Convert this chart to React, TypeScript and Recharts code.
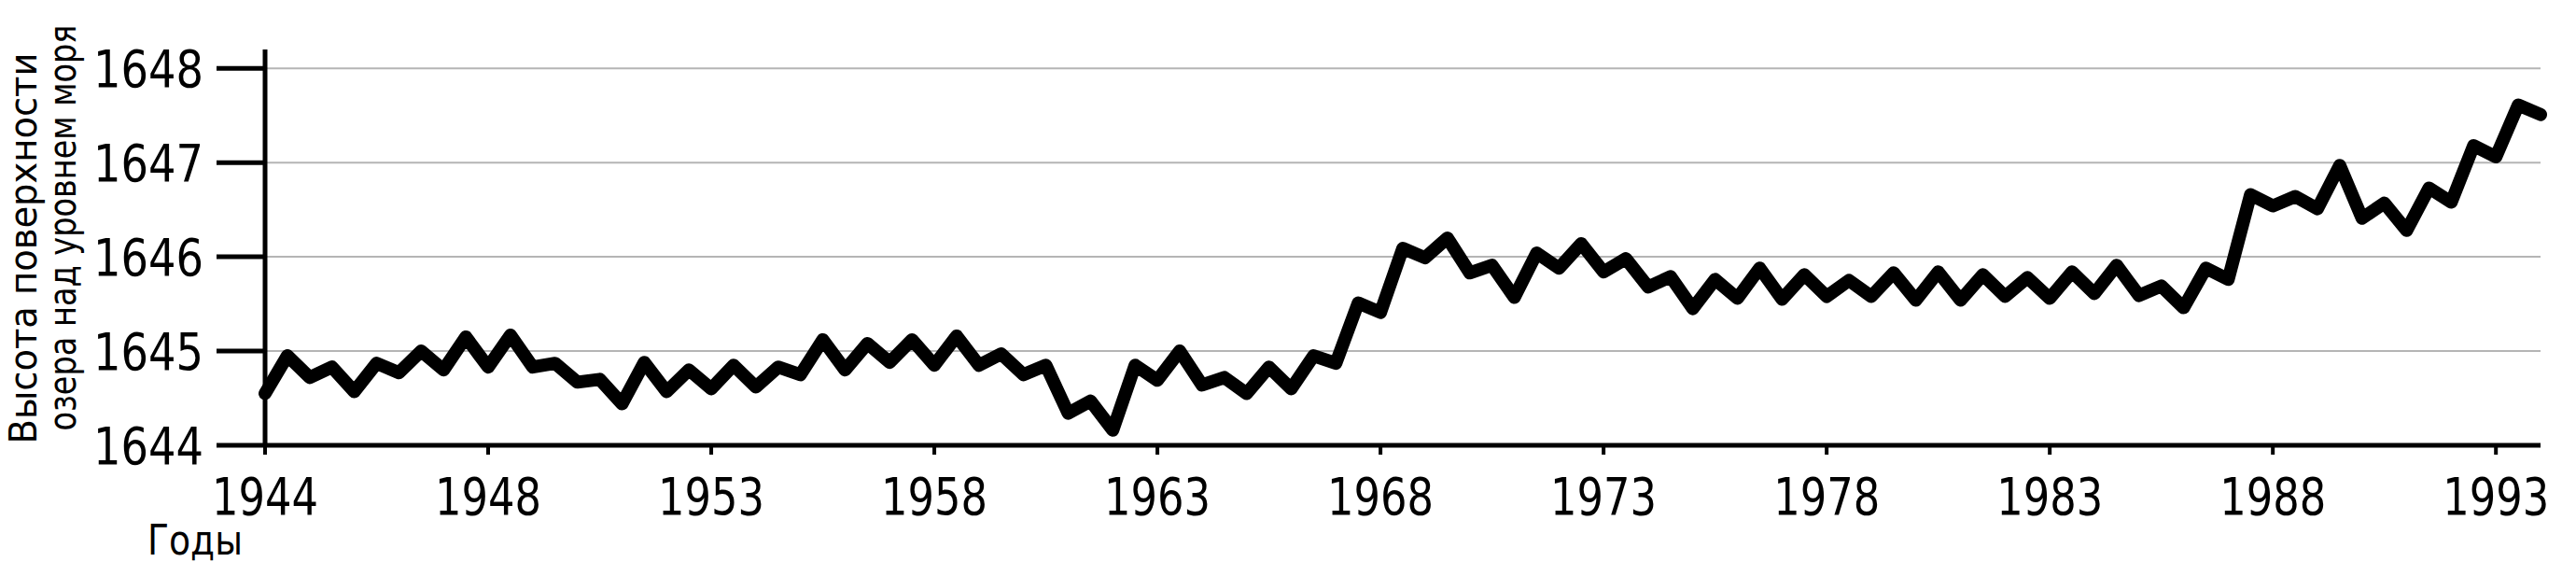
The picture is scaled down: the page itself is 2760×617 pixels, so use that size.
import { LineChart, Line, XAxis, YAxis, CartesianGrid } from "recharts";

// lake surface level, two readings per year (m above sea level)
const levels = [
  1644.55, 1644.95, 1644.72, 1644.83, 1644.57, 1644.87, 1644.77, 1645.0, 1644.8, 1645.15,
  1644.83, 1645.17, 1644.83, 1644.87, 1644.67, 1644.7, 1644.44, 1644.88, 1644.57, 1644.8,
  1644.6, 1644.85, 1644.62, 1644.83, 1644.75, 1645.12, 1644.8, 1645.08, 1644.88, 1645.12,
  1644.85, 1645.16, 1644.85, 1644.97, 1644.75, 1644.85, 1644.34, 1644.47, 1644.16, 1644.85,
  1644.69, 1645.0, 1644.64, 1644.72, 1644.55, 1644.83, 1644.6, 1644.95, 1644.87, 1645.51,
  1645.41, 1646.09, 1645.99, 1646.2, 1645.83, 1645.91, 1645.57, 1646.04, 1645.88, 1646.14,
  1645.84, 1645.98, 1645.68, 1645.79, 1645.45, 1645.76, 1645.56, 1645.88, 1645.55, 1645.81,
  1645.58, 1645.75, 1645.58, 1645.83, 1645.54, 1645.84, 1645.54, 1645.81, 1645.58, 1645.78,
  1645.56, 1645.84, 1645.61, 1645.91, 1645.59, 1645.69, 1645.46, 1645.88, 1645.76, 1646.66,
  1646.54, 1646.64, 1646.51, 1646.97, 1646.41, 1646.57, 1646.28, 1646.73, 1646.58, 1647.18,
  1647.06, 1647.61, 1647.51,
];

const yearLabels = ["1944", "1948", "1953", "1958", "1963", "1968", "1973", "1978", "1983", "1988", "1993"];
const levelTicks = [1644, 1645, 1646, 1647, 1648];

const STEP = 10; // one labelled tick every 10 readings
const data = levels.map((v, i) => ({ i, v }));
const xTicks = yearLabels.map((_, k) => k * STEP);

const font = "'DejaVu Sans', sans-serif";
const narrow = "'DejaVu Sans Condensed', 'DejaVu Sans', sans-serif";

// the original uses a narrow face, so squeeze the glyphs to the measured width
function YTick({ x, y, payload }: any) {
  return (
    <text x={x} y={y} dy="0.36em" textAnchor="end" fontFamily={font} fontSize={56} fill="#000"
      textLength={118} lengthAdjust="spacingAndGlyphs">
      {payload.value}
    </text>
  );
}

function XTick({ x, y, payload }: any) {
  return (
    <text x={x} y={y} dy="0.72em" textAnchor="middle" fontFamily={font} fontSize={56} fill="#000"
      textLength={114} lengthAdjust="spacingAndGlyphs">
      {yearLabels[Math.round(payload.value / STEP)]}
    </text>
  );
}

function YTitle() {
  return (
    <g fontFamily={narrow} fontSize={41} fill="#000">
      <text x={39} y={266} textAnchor="middle" transform="rotate(-90, 39, 266)"
        textLength={419} lengthAdjust="spacingAndGlyphs">
        Высота поверхности
      </text>
      <text x={81} y={244} textAnchor="middle" transform="rotate(-90, 81, 244)"
        textLength={435} lengthAdjust="spacingAndGlyphs">
        озера над уровнем моря
      </text>
    </g>
  );
}

function XTitle() {
  return (
    <text x={158} y={594} fontFamily={font} fontSize={44} fill="#000" textLength={102} lengthAdjust="spacingAndGlyphs">
      Годы
    </text>
  );
}

export default function App() {
  return (
    <div style={{ position: "absolute", left: 0, top: 0, background: "#fff" }}>
      <LineChart width={2760} height={617} data={data} margin={{ top: 53, right: 38, bottom: 0, left: 0 }}>
        <CartesianGrid vertical={false} horizontalValues={levelTicks} stroke="#b5b5b5" strokeWidth={2} />
        <XAxis
          dataKey="i"
          type="number"
          domain={[0, levels.length - 1]}
          ticks={xTicks}
          height={140}
          tickSize={10}
          tickMargin={24}
          axisLine={{ stroke: "#000", strokeWidth: 5 }}
          tickLine={{ stroke: "#000", strokeWidth: 4 }}
          tick={<XTick />}
          label={<XTitle />}
        />
        <YAxis
          type="number"
          domain={[1644, 1648.2]}
          ticks={levelTicks}
          allowDataOverflow
          width={284}
          tickSize={52}
          tickMargin={14}
          axisLine={{ stroke: "#000", strokeWidth: 5 }}
          tickLine={{ stroke: "#000", strokeWidth: 5 }}
          tick={<YTick />}
          label={<YTitle />}
        />
        <Line
          type="linear"
          dataKey="v"
          stroke="#000"
          strokeWidth={14}
          strokeLinejoin="round"
          strokeLinecap="round"
          dot={false}
          isAnimationActive={false}
        />
      </LineChart>
    </div>
  );
}
